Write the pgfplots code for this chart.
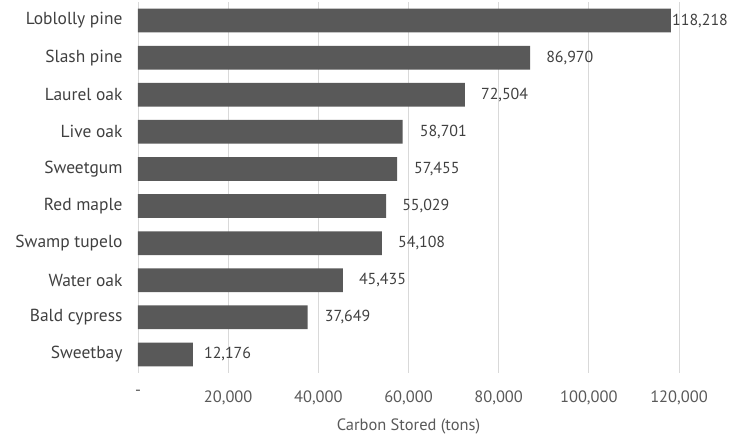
\documentclass[border=0pt]{standalone}
\usepackage{fontspec}
\setmainfont{PT Sans}
\usepackage{pgfplots}
\usepackage{pgfplotstable}
\pgfplotsset{compat=1.18}

\definecolor{barcol}{HTML}{595959}
\definecolor{labcol}{HTML}{404040}
\definecolor{tickcol}{HTML}{595959}
\definecolor{gridcol}{HTML}{D9D9D9}

% species, carbon stored (tons), label shift (bp)
\pgfplotstableread[col sep=comma]{
idx,species,carbon,dx
0,Loblolly pine,118218,1
1,Slash pine,86970,16
2,Laurel oak,72504,16
3,Live oak,58701,17
4,Sweetgum,57455,17
5,Red maple,55029,16
6,Swamp tupelo,54108,16
7,Water oak,45435,16
8,Bald cypress,37649,17
9,Sweetbay,12176,11
}\carbon

\begin{document}
\begin{tikzpicture}
\begin{axis}[
  scale only axis,
  width=541bp, height=371bp,
  xbar, bar width=0.64,
  y dir=reverse,
  xmin=0, xmax=120000,
  ymin=-0.5, ymax=9.5,
  axis line style={draw=none},
  xmajorgrids, grid style={gridcol, line width=0.9bp},
  scaled x ticks=false,
  xtick={0,20000,40000,60000,80000,100000,120000},
  xticklabels={{-},{20,000},{40,000},{60,000},{80,000},{100,000},{120,000}},
  ytick=data,
  yticklabels from table={\carbon}{species},
  major tick length=0pt,
  xticklabel style={font=\fontsize{16.5}{19}\selectfont, text=tickcol, yshift=-14bp},
  yticklabel style={font=\fontsize{17.5}{20}\selectfont, text=labcol, xshift=-12bp},
  xlabel={Carbon Stored (tons)},
  xlabel style={font=\fontsize{16.5}{19}\selectfont, text=tickcol, yshift=-7bp},
  nodes near coords,
  point meta=explicit,
  visualization depends on={\thisrow{dx} \as \dx},
  nodes near coords style={anchor=west, xshift=\dx bp, inner sep=0pt,
    font=\fontsize{16}{19}\selectfont, text=labcol,
    /pgf/number format/.cd, fixed, precision=0, 1000 sep={,}, assume math mode=true},
  clip=false,
]
\addplot[fill=barcol, draw=none] table[x=carbon, y=idx, meta=carbon] {\carbon};
\end{axis}
\pgfresetboundingbox
\path[use as bounding box] ([shift={(-138bp,-62bp)}]current axis.south west)
  rectangle ([shift={(60bp,2bp)}]current axis.north east);
\end{tikzpicture}
\end{document}
